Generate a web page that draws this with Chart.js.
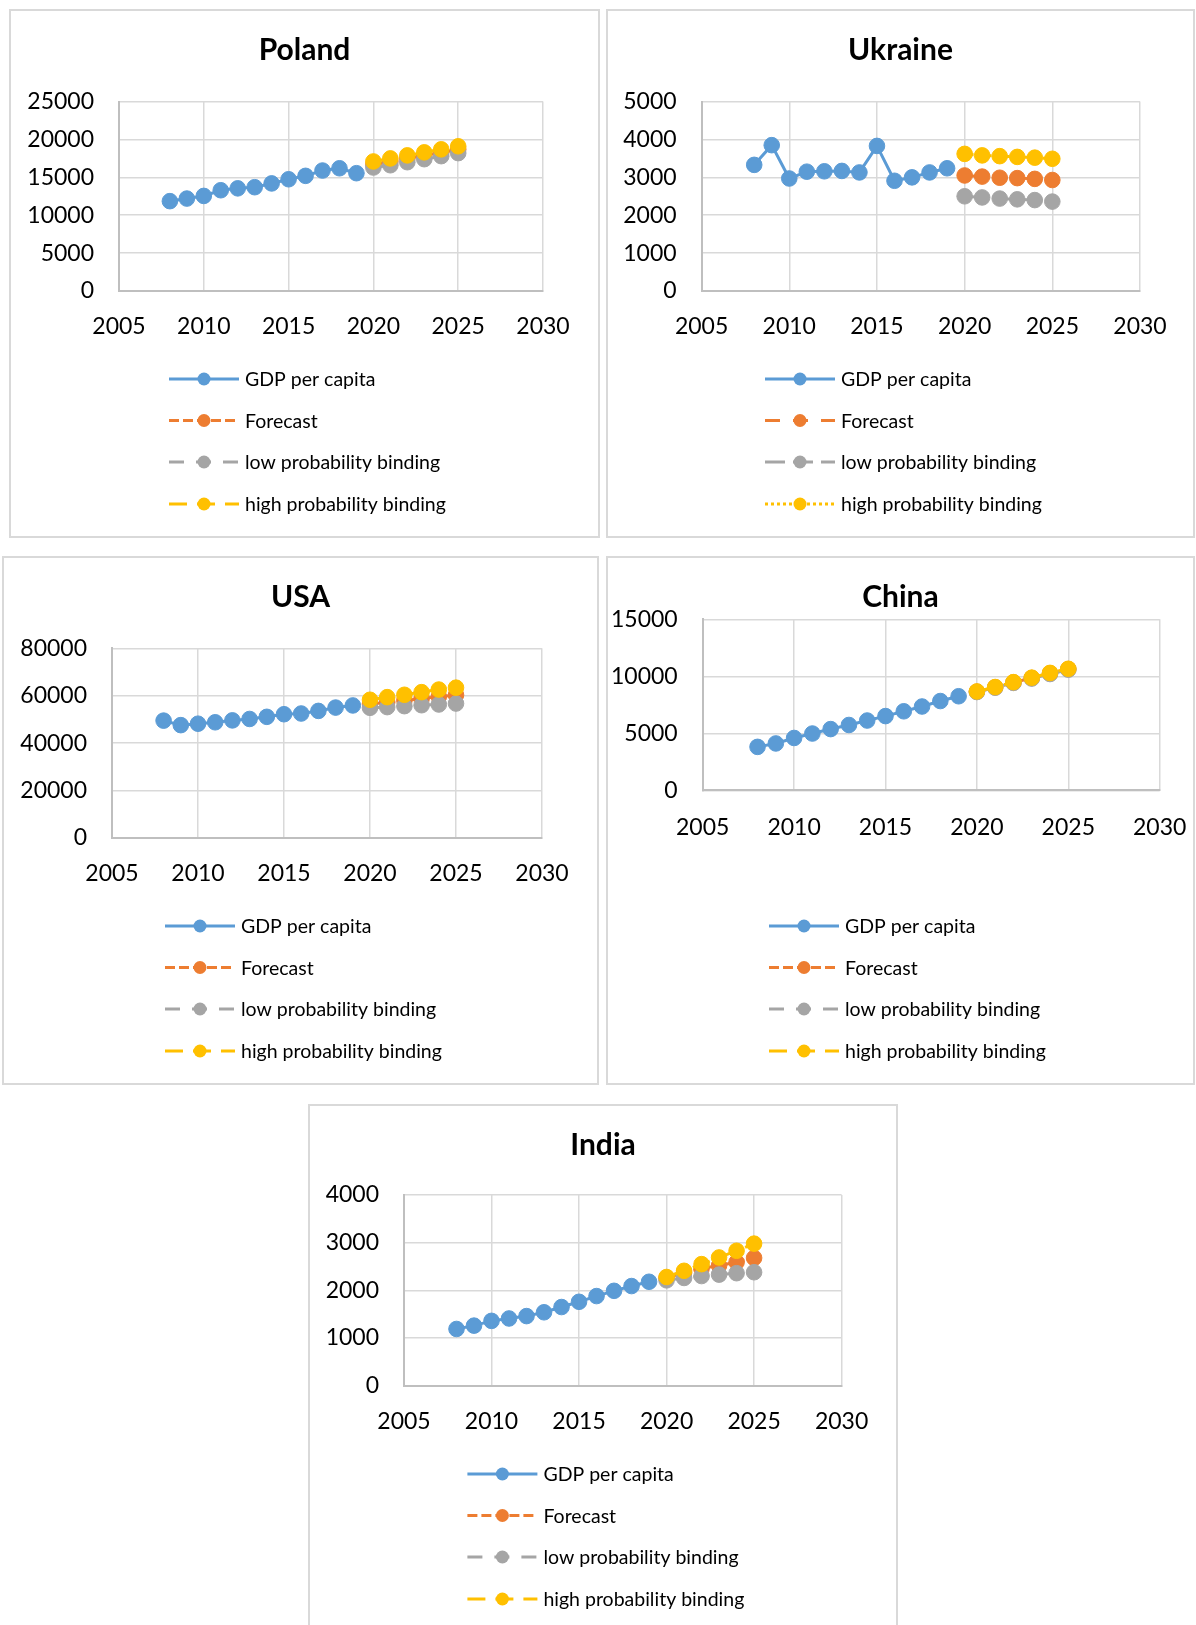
<!DOCTYPE html>
<html>
<head>
<meta charset="utf-8">
<title>GDP per capita forecasts</title>
<script src="https://cdn.jsdelivr.net/npm/chart.js@4.4.1/dist/chart.umd.min.js"></script>
<style>
  body { margin: 0; background: #fff; width: 1196px; height: 1625px; overflow: hidden; position: relative; }
  .panel { position: absolute; box-shadow: inset 0 0 0 2px #d9d9d9; background: #fff; }
  .panel canvas { display: block; }
</style>
</head>
<body>
<div class="panel" style="left:9px;top:9px;width:591px;height:529px"><canvas id="poland"></canvas></div>
<div class="panel" style="left:606px;top:9px;width:589px;height:529px"><canvas id="ukraine"></canvas></div>
<div class="panel" style="left:2px;top:556px;width:597px;height:529px"><canvas id="usa"></canvas></div>
<div class="panel" style="left:606px;top:556px;width:589px;height:529px"><canvas id="china"></canvas></div>
<div class="panel" style="left:308px;top:1104px;width:590px;height:530px"><canvas id="india"></canvas></div>

<script>
// ---- data ----
const years = [2008, 2009, 2010, 2011, 2012, 2013, 2014, 2015, 2016, 2017, 2018, 2019];
const forecastYears = [2020, 2021, 2022, 2023, 2024, 2025];
const yearTicks = [2005, 2010, 2015, 2020, 2025, 2030];

const seriesNames = ['GDP per capita', 'Forecast', 'low probability binding', 'high probability binding'];

const polandGdp      = [11860, 12200, 12550, 13300, 13550, 13700, 14200, 14750, 15200, 15900, 16200, 15550];
const polandForecast = [16700, 17100, 17500, 17900, 18300, 18700];
const polandLow      = [16300, 16600, 17000, 17400, 17800, 18200];
const polandHigh     = [17100, 17500, 17900, 18300, 18700, 19100];
const polandTicks    = [0, 5000, 10000, 15000, 20000, 25000];

const ukraineGdp      = [3330, 3850, 2970, 3150, 3160, 3170, 3130, 3830, 2910, 3000, 3130, 3240];
const ukraineForecast = [3050, 3020, 2990, 2980, 2960, 2930];
const ukraineLow      = [2500, 2470, 2440, 2420, 2400, 2360];
const ukraineHigh     = [3620, 3580, 3560, 3540, 3520, 3490];
const ukraineTicks    = [0, 1000, 2000, 3000, 4000, 5000];

const usaGdp      = [49500, 47600, 48200, 48800, 49600, 50200, 51100, 52200, 52500, 53600, 55000, 55900];
const usaForecast = [56500, 57300, 58000, 58800, 59600, 60300];
const usaLow      = [54900, 55200, 55600, 56000, 56300, 56700];
const usaHigh     = [58300, 59400, 60400, 61500, 62600, 63400];
const usaTicks    = [0, 20000, 40000, 60000, 80000];

const chinaGdp      = [3810, 4110, 4590, 4980, 5370, 5730, 6120, 6510, 6930, 7350, 7830, 8250];
const chinaForecast = [8650, 9030, 9460, 9850, 10260, 10630];
const chinaLow      = [8620, 9000, 9420, 9800, 10200, 10580];
const chinaHigh     = [8670, 9060, 9490, 9880, 10300, 10660];
const chinaTicks    = [0, 5000, 10000, 15000];

const indiaGdp      = [1190, 1260, 1360, 1410, 1460, 1540, 1650, 1760, 1880, 1990, 2090, 2180];
const indiaForecast = [2260, 2370, 2460, 2520, 2590, 2680];
const indiaLow      = [2210, 2260, 2300, 2330, 2360, 2380];
const indiaHigh     = [2280, 2410, 2550, 2690, 2830, 2980];
const indiaTicks    = [0, 1000, 2000, 3000, 4000];

// ---- styles ----
const colors = ['#5B9BD5', '#ED7D31', '#A5A5A5', '#FFC000'];
const defaultDashes = [[], [10, 4], [15, 12], [18, 10]];
const ukraineDashes = [[], [15, 13], [20, 8], [3, 3]];
const FONT = 'Lato, "Open Sans", sans-serif';

const toPoints = (xs, ys) => xs.map((x, i) => ({ x: x, y: ys[i] }));

// title and the stacked legend under the plot
const panelText = {
  id: 'panelText',
  afterDraw(chart, args, opts) {
    const ctx = chart.ctx;
    ctx.save();
    ctx.fillStyle = '#000';
    ctx.font = 'bold 30px ' + FONT;
    ctx.textAlign = 'center';
    ctx.textBaseline = 'middle';
    ctx.fillText(opts.title, chart.width / 2, opts.titleY);

    ctx.font = '19.5px ' + FONT;
    ctx.textAlign = 'left';
    chart.data.datasets.forEach((ds, i) => {
      const y = opts.rows[i];
      ctx.strokeStyle = ds.borderColor;
      ctx.lineWidth = ds.borderWidth;
      ctx.lineCap = 'butt';
      ctx.setLineDash(ds.borderDash);
      ctx.beginPath();
      ctx.moveTo(opts.symX, y);
      ctx.lineTo(opts.symX + 70, y);
      ctx.stroke();
      ctx.setLineDash([]);
      ctx.fillStyle = ds.pointBackgroundColor;
      ctx.beginPath();
      ctx.arc(opts.symX + 35, y, 6.5, 0, Math.PI * 2);
      ctx.fill();
      ctx.fillStyle = '#000';
      ctx.fillText(ds.label, opts.symX + 76, y + 1);
    });
    ctx.restore();
  }
};

function drawPanel(id, title, series, yTicks, dashes, geo) {
  const canvas = document.getElementById(id);
  canvas.width = geo.w;
  canvas.height = geo.h;

  const datasets = series.map((values, i) => ({
    label: seriesNames[i],
    data: toPoints(i === 0 ? years : forecastYears, values),
    borderColor: colors[i],
    backgroundColor: colors[i],
    borderWidth: 3,
    borderDash: dashes[i],
    borderCapStyle: 'butt',
    pointRadius: 7.8,
    pointHoverRadius: 7.8,
    pointBorderWidth: 1,
    pointBackgroundColor: colors[i],
    pointBorderColor: colors[i],
    order: 4 - i,
    tension: 0,
    fill: false
  }));

  const tickFont = { family: FONT, size: 23 };

  new Chart(canvas, {
    type: 'line',
    data: { datasets: datasets },
    plugins: [panelText],
    options: {
      responsive: false,
      animation: false,
      events: [],
      layout: { padding: { left: 0, right: geo.w - geo.right, top: geo.top, bottom: 0 } },
      plugins: {
        legend: { display: false },
        tooltip: { enabled: false },
        title: { display: false },
        panelText: { title: title, titleY: 41, symX: geo.symX, rows: geo.rows }
      },
      scales: {
        x: {
          type: 'linear',
          min: yearTicks[0],
          max: yearTicks[yearTicks.length - 1],
          ticks: {
            stepSize: yearTicks[1] - yearTicks[0],
            padding: geo.xPad,
            color: '#000',
            font: tickFont,
            maxRotation: 0,
            autoSkip: false,
            callback: v => String(v)
          },
          grid: { color: '#d9d9d9', lineWidth: 1.5, drawTicks: false },
          border: { color: '#bfbfbf', width: 2 },
          // the plot box is fixed; end labels may hang into the side margins
          afterFit: s => {
            s.height = geo.h - geo.bottom;
            s.paddingLeft = 0;
            s.paddingRight = 0;
          }
        },
        y: {
          min: yTicks[0],
          max: yTicks[yTicks.length - 1],
          ticks: {
            stepSize: yTicks[1] - yTicks[0],
            padding: 25,
            color: '#000',
            font: tickFont,
            callback: v => String(v)
          },
          grid: { color: '#d9d9d9', lineWidth: 1.5, drawTicks: false },
          border: { color: '#bfbfbf', width: 2 },
          afterFit: s => { s.width = geo.left; }
        }
      }
    }
  });
}

const rowsTop = [370, 411.5, 453, 495];

drawPanel('poland', 'Poland', [polandGdp, polandForecast, polandLow, polandHigh], polandTicks, defaultDashes,
  { w: 591, h: 529, left: 110, right: 534, top: 92.6, bottom: 282, xPad: 22, symX: 160, rows: rowsTop });

drawPanel('ukraine', 'Ukraine', [ukraineGdp, ukraineForecast, ukraineLow, ukraineHigh], ukraineTicks, ukraineDashes,
  { w: 589, h: 529, left: 95.6, right: 534, top: 92.6, bottom: 282, xPad: 22, symX: 159, rows: rowsTop });

drawPanel('usa', 'USA', [usaGdp, usaForecast, usaLow, usaHigh], usaTicks, defaultDashes,
  { w: 597, h: 529, left: 110, right: 540, top: 92.3, bottom: 282, xPad: 22, symX: 163, rows: rowsTop });

drawPanel('china', 'China', [chinaGdp, chinaForecast, chinaLow, chinaHigh], chinaTicks, defaultDashes,
  { w: 589, h: 529, left: 96.7, right: 553.7, top: 63.3, bottom: 234.3, xPad: 23, symX: 163, rows: rowsTop });

drawPanel('india', 'India', [indiaGdp, indiaForecast, indiaLow, indiaHigh], indiaTicks, defaultDashes,
  { w: 590, h: 530, left: 96, right: 533.6, top: 91, bottom: 281.7, xPad: 22, symX: 159.4, rows: rowsTop });
</script>
</body>
</html>
